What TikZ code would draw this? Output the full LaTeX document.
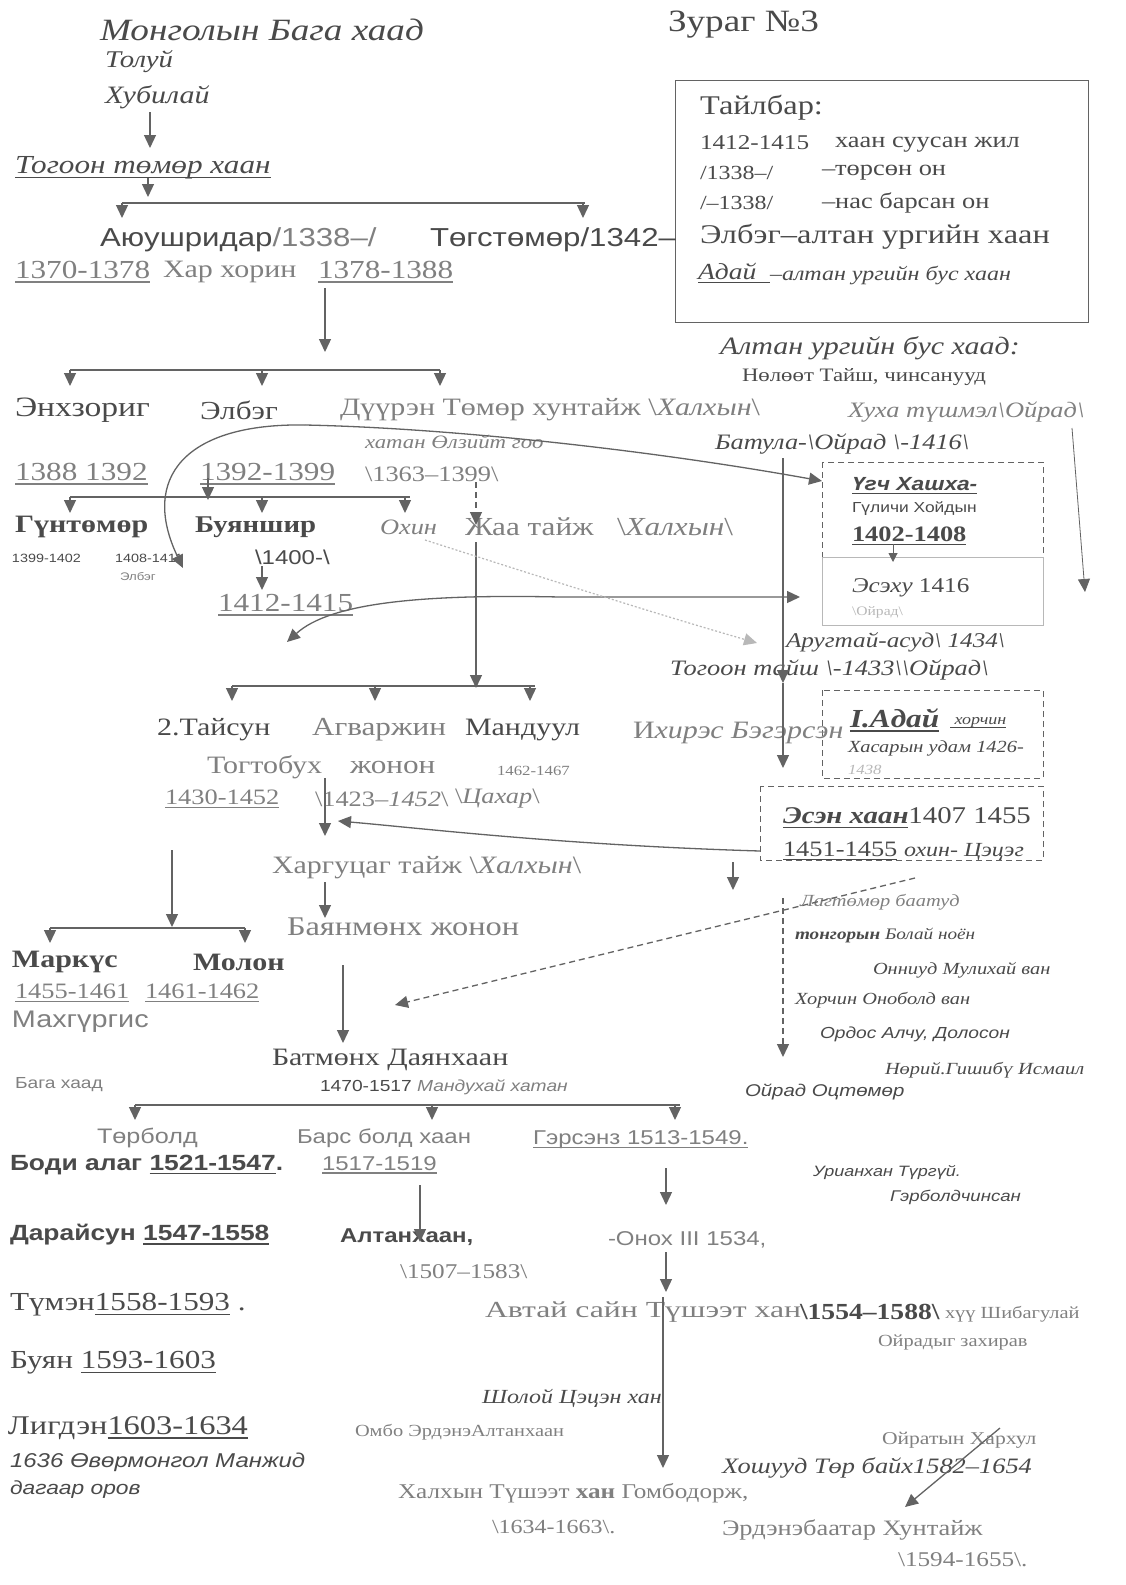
\documentclass[tikz,border=0pt]{standalone}
\usepackage{fontspec}
\setmainfont{Liberation Serif}[FakeStretch=1.2]
\setsansfont{Liberation Sans}[FakeStretch=1.2]
\newfontfamily\widerm{Liberation Serif}[FakeStretch=1.38]
\usetikzlibrary{arrows.meta}
\definecolor{ink}{HTML}{4A4A4A}
\definecolor{inkl}{HTML}{808080}
\definecolor{ln}{HTML}{636363}
\definecolor{faint}{HTML}{B8B8B8}
\newcommand{\fz}[1]{\fontsize{#1}{#1}\selectfont}
\newcommand{\bsl}{\textbackslash}
\newcommand{\ul}[1]{\setbox0=\hbox{#1}\rlap{\rule[-0.17em]{\wd0}{0.06em}}\box0\relax}
\begin{document}
\begin{tikzpicture}[x=1pt,y=-1pt,
  base/.style={inner sep=0pt, outer sep=0pt, anchor=west, text=ink},
  lite/.style={base, text=inkl},
  arr/.style={draw=ln, line width=1.3pt, -{Triangle[width=12pt,length=13pt]}},
  sarr/.style={draw=ln, line width=1pt, -{Triangle[width=9pt,length=9pt]}},
  barl/.style={draw=ln, line width=2.5pt},
  dbox/.style={draw=ln, line width=1pt, dash pattern=on 6pt off 4pt},
  dline/.style={draw=ln, line width=1.3pt, dash pattern=on 6pt off 4pt, -{Triangle[width=12pt,length=13pt]}}]
\useasboundingbox (0,0) rectangle (1125,1585);
\fill[white] (0,0) rectangle (1125,1585);

% ---------- top ----------
\node[base,font={\itshape\fz{31}}] (title) at (100,30) {Монголын Бага хаад};
\node[base,font={\fz{31}}] (fig) at (668,25) {Зураг №3};
\node[base,font={\itshape\fz{24}}] (toluy) at (105,62) {Толуй};
\node[base,font={\itshape\fz{25}}] (khubilai) at (105,97) {Хубилай};
\node[base,font={\itshape\fz{26}}] (togoon) at (15,168) {\ul{Тогоон төмөр хаан}};

% legend
\node[draw=ln, line width=1pt, minimum width=413pt, minimum height=242pt, inner sep=0pt] (legend) at (881.5,201) {};
\node[base,font={\fz{27}}] (lg1) at (700,108) {Тайлбар:};
\node[base,font={\fz{21}}] (lg2a) at (700,143) {1412-1415};
\node[base,font={\fz{22}}] (lg2b) at (835,145) {хаан суусан жил};
\node[base,font={\fz{20}}] (lg3a) at (700,173) {/1338–/};
\node[base,font={\fz{22}}] (lg3b) at (822,173) {–төрсөн он};
\node[base,font={\fz{20}}] (lg4a) at (700,203) {/–1338/};
\node[base,font={\fz{22}}] (lg4b) at (822,203) {–нас барсан он};
\node[base,font={\fz{27}}] (lg5) at (700,237) {Элбэг–алтан ургийн хаан};
\node[base,font={\itshape\fz{23}}] (lg6a) at (698,273) {\ul{Адай\ \ }};
\node[base,font={\itshape\fz{20}}] (lg6b) at (770,275) {–алтан ургийн бус хаан};

\node[base,font={\sffamily\fz{26}}] (ayu) at (100,240) {Аюушридар\textcolor{inkl}{/1338–/}};
\node[base,font={\sffamily\fz{26}}] (tug) at (430,240) {Төгстөмөр/1342–};
\node[lite,font={\fz{26}}] (y1) at (15,272) {\ul{1370-1378}};
\node[lite,font={\fz{25}}] (kh) at (163,272) {Хар хорин};
\node[lite,font={\fz{26}}] (y2) at (318,272) {\ul{1378-1388}};

% ---------- row 2 ----------
\node[base,font={\fz{28}}] (enkh) at (15,410) {Энхзориг};
\node[base,font={\fz{26}}] (elbeg) at (200,410) {Элбэг};
\node[lite,font={\fz{25}}] (duuren) at (340,410) {Дүүрэн Төмөр хунтайж \bsl\textit{Халхын}\bsl};
\node[lite,font={\itshape\fz{22}}] (khukha) at (848,412) {Хуха түшмэл\bsl Ойрад\bsl};
\node[lite,font={\itshape\fz{19}}] (ulziit) at (365,442) {хатан Өлзийт гоо};
\node[base,font={\itshape\fz{22}}] (batula) at (715,444) {Батула-\bsl Ойрад \bsl-1416\bsl};
\node[lite,font={\fz{26}}] (y3) at (15,474) {\ul{1388 1392}};
\node[lite,font={\fz{26}}] (y4) at (200,474) {\ul{1392-1399}};
\node[lite,font={\fz{22}}] (y5) at (365,474) {\bsl1363–1399\bsl};

\node[base,font={\itshape\fz{25}}] (altan) at (720,348) {Алтан ургийн бус хаад:};
\node[base,font={\fz{19}}] (nuluut) at (742,377) {Нөлөөт Тайш, чинсанууд};

% ---------- row 3 ----------
\node[base,font={\bfseries\fz{25}}] (guntumur) at (15,527) {Гүнтөмөр};
\node[base,font={\bfseries\fz{24}}] (buyanshir) at (195,527) {Буяншир};
\node[lite,font={\itshape\fz{22}}] (okhin) at (380,527) {Охин};
\node[lite,font={\fz{26}}] (jaa) at (465,527) {Жаа тайж};
\node[lite,font={\fz{26}}] (jaakh) at (617,527) {\bsl\textit{Халхын}\bsl};
\node[base,font={\sffamily\fz{12}}] (s1) at (12,558) {1399-1402};
\node[base,font={\sffamily\fz{12}}] (s2) at (115,558) {1408-1411};
\node[lite,font={\sffamily\fz{11}}] (s3) at (120,577) {Элбэг};
\node[base,font={\sffamily\fz{20}}] (s4) at (255,557) {\bsl1400-\bsl};
\node[lite,font={\fz{26}}] (y6) at (218,605) {\ul{1412-1415}};

% boxes right
\draw[dbox] (822,462) rectangle (1043,557);
\draw[draw=faint, line width=0.8pt] (822,557) rectangle (1043,625);
\node[base,font={\sffamily\bfseries\itshape\fz{19}}] (ugch) at (852,486) {\ul{Үгч Хашха-}};
\node[base,font={\sffamily\fz{14.5}}] (gulichi) at (852,509) {Гүличи Хойдын};
\node[base,font={\bfseries\fz{22}}] (y7) at (852,536) {\ul{1402-1408}};
\node[base,font={\fz{21}}] (esekhu) at (852,588) {\textit{Эсэху} 1416};
\node[base,font={\fz{13}}, text=faint] (oirad1) at (852,612) {\bsl Ойрад\bsl};
\node[base,font={\itshape\fz{21}}] (arugtai) at (786,642) {Аругтай-асуд\bsl\ 1434\bsl};
\node[base,font={\itshape\fz{22}}] (togoont) at (670,670) {Тогоон тайш \bsl-1433\bsl\bsl Ойрад\bsl};
\draw[dbox] (822,690) rectangle (1043,778);
\node[base,font={\bfseries\itshape\fz{26}}] (adai) at (850,720) {\ul{I.Адай}};
\node[base,font={\itshape\fz{15}}] (khorchin) at (950,723) {\ul{\ хорчин}};
\node[base,font={\itshape\fz{17}}] (khasar) at (848,748) {Хасарын удам 1426-};
\node[base,font={\itshape\fz{14}}, text=faint] (y1438) at (848,770) {1438};
\draw[dbox] (760,786) rectangle (1043,860);
\node[base,font={\fz{24}}] (esen) at (783,818) {\textbf{\textit{\ul{Эсэн хаан}}}1407 1455};
\node[base,font={\fz{22}}] (y8) at (783,851) {\ul{1451-1455} \textit{\fz{20}охин- Цэцэг}};

% right list
\node[lite,font={\itshape\fz{17}}] (lagt) at (800,902) {Лагтөмөр баатуд};
\node[base,font={\itshape\fz{16}}] (tongor) at (795,935) {\textbf{тонгорын} Болай ноён};
\node[base,font={\itshape\fz{17}}] (onniud) at (873,970) {Онниуд Мулихай ван};
\node[base,font={\itshape\fz{17}}] (khorchin2) at (795,1000) {Хорчин Оноболд ван};
\node[base,font={\sffamily\itshape\fz{16}}] (ordos) at (820,1034) {Ордос Алчу, Долосон};
\node[base,font={\itshape\fz{17}}] (nurii) at (885,1070) {Нөрий.Гишибү Исмаил};
\node[base,font={\sffamily\itshape\fz{17}}] (oiradots) at (745,1092) {Ойрад Оцтөмөр};
\node[base,font={\sffamily\itshape\fz{15}}] (uriankh) at (813,1172) {Урианхан Түргүй.};
\node[base,font={\sffamily\itshape\fz{15.5}}] (gerbold) at (890,1197) {Гэрболдчинсан};

% ---------- middle ----------
\node[base,font={\fz{25}}] (taisun) at (157,730) {2.Тайсун};
\node[lite,font={\fz{26}}] (agvar) at (312,730) {Агваржин};
\node[base,font={\fz{25}}] (mandu) at (465,730) {Мандуул};
\node[lite,font={\fz{25}}] (ikhires) at (633,733) {И\textit{хирэс Бэгэрсэн}};
\node[lite,font={\fz{25}}] (togto) at (207,767) {Тогтобух};
\node[lite,font={\fz{26}}] (jonon) at (350,767) {жонон};
\node[lite,font={\fz{14}}] (y9) at (497,771) {1462-1467};
\node[lite,font={\fz{22}}] (y10) at (165,799) {\ul{1430-1452}};
\node[lite,font={\fz{22}}] (y11) at (315,799) {\bsl1423–\textit{1452}\bsl};
\node[lite,font={\fz{22}}] (tsakhar) at (455,799) {\bsl\textit{Цахар}\bsl};
\node[lite,font={\fz{25}}] (khargu) at (272,868) {Харгуцаг тайж \bsl\textit{Халхын}\bsl};
\node[lite,font={\fz{27}}] (bayan) at (287,927) {Баянмөнх жонон};
\node[base,font={\bfseries\fz{25}}] (markus) at (12,962) {Маркүс};
\node[base,font={\bfseries\fz{25}}] (molon) at (193,962) {Молон};
\node[lite,font={\fz{22}}] (y12) at (15,993) {\ul{1455-1461}};
\node[lite,font={\fz{22}}] (y13) at (145,993) {\ul{1461-1462}};
\node[lite,font={\sffamily\fz{24}}] (makh) at (12,1022) {Махгүргис};
\node[base,font={\fz{25}}] (batmunkh) at (272,1060) {Батмөнх Даянхаан};
\node[lite,font={\sffamily\fz{16}}] (baga) at (15,1085) {Бага хаад};
\node[base,font={\sffamily\fz{16}}] (y14) at (320,1087) {1470-1517 \textit{\textcolor{inkl}{Мандухай хатан}}};
\node[lite,font={\sffamily\fz{21}}] (turbold) at (97,1138) {Төрболд};
\node[lite,font={\sffamily\fz{20}}] (bars) at (297,1138) {Барс болд хаан};
\node[lite,font={\sffamily\fz{20}}] (gersenz) at (533,1140) {\ul{Гэрсэнз 1513-1549.}};
\node[base,font={\sffamily\bfseries\fz{22}}] (bodi) at (10,1165) {Боди алаг \ul{1521-1547}.};
\node[lite,font={\sffamily\fz{20}}] (y15) at (322,1165) {\ul{1517-1519}};
\node[base,font={\sffamily\bfseries\fz{22}}] (darai) at (10,1235) {Дарайсун \ul{1547-1558}};
\node[base,font={\sffamily\bfseries\fz{20}}] (altankh) at (340,1237) {Алтанхаан,};
\node[lite,font={\sffamily\fz{20}}] (onokh) at (608,1240) {-Онох III 1534,};
\node[lite,font={\fz{21}}] (y16) at (400,1272) {\bsl1507–1583\bsl};
\node[base,font={\fz{26}}] (tumen) at (10,1305) {Түмэн\ul{1558-1593} .};
\node[lite,font={\widerm\fz{23}}] (avtai) at (485,1312) {Автай сайн Түшээт хан};
\node[base,font={\bfseries\fz{23}}] (y17) at (800,1312) {\bsl1554–1588\bsl};
\node[lite,font={\fz{17}}] (khuu) at (945,1314) {хүү Шибагулай};
\node[lite,font={\fz{17}}] (oirdyg) at (878,1342) {Ойрадыг захирав};
\node[base,font={\fz{26}}] (buyan) at (10,1363) {Буян \ul{1593-1603}};
\node[base,font={\itshape\fz{20}}] (sholoi) at (482,1398) {Шолой Цэцэн хан};
\node[base,font={\fz{27}}] (ligden) at (8,1428) {Лигдэн\ul{1603-1634}};
\node[lite,font={\fz{17}}] (ombo) at (355,1432) {Омбо ЭрдэнэАлтанхаан};
\node[lite,font={\fz{18}}] (oiratkh) at (882,1440) {Ойратын Хархул};
\node[base,font={\sffamily\itshape\fz{20}}] (y1636) at (10,1462) {1636 Өвөрмонгол Манжид};
\node[base,font={\itshape\fz{22}}] (khoshuud) at (722,1468) {Хошууд Төр байх1582–1654};
\node[base,font={\sffamily\itshape\fz{19}}] (dagaar) at (10,1490) {дагаар оров};
\node[lite,font={\fz{21}}] (khalkh) at (398,1493) {Халхын Түшээт \textbf{хан} Гомбодорж,};
\node[lite,font={\fz{20}}] (y18) at (492,1527) {\bsl1634-1663\bsl.};
\node[lite,font={\fz{22}}] (erdene) at (722,1530) {Эрдэнэбаатар Хунтайж};
\node[lite,font={\fz{21}}] (y19) at (898,1560) {\bsl1594-1655\bsl.};

% ---------- coordinates ----------
\coordinate (a1s) at (150,112); \coordinate (a1e) at (150,148);
\coordinate (a2s) at (148,178); \coordinate (a2e) at (148,197);
\coordinate (h1l) at (122,203); \coordinate (h1r) at (585,203);
\coordinate (h1a) at (122,218); \coordinate (h1b) at (583,218); \coordinate (h1bs) at (583,203);
\coordinate (a3s) at (325,288); \coordinate (a3e) at (325,352);
\coordinate (h2l) at (70,370); \coordinate (h2m) at (262,370); \coordinate (h2r) at (440,370);
\coordinate (h2a) at (70,386); \coordinate (h2b) at (262,386); \coordinate (h2c) at (440,386);
\coordinate (e0) at (305,425); \coordinate (e1) at (183,568); \coordinate (e2) at (822,481);
\coordinate (a6s) at (208,478); \coordinate (a6e) at (208,500);
\coordinate (h3l) at (70,497); \coordinate (h3m) at (262,497); \coordinate (h3r) at (410,497); \coordinate (h3rr) at (405,497);
\coordinate (h3a) at (70,513); \coordinate (h3b) at (262,513); \coordinate (h3c) at (405,513);
\coordinate (j0) at (476,482); \coordinate (j1) at (476,525); \coordinate (j2) at (476,542); \coordinate (j3) at (476,688);
\coordinate (h4l) at (232,686); \coordinate (h4m) at (375,686); \coordinate (h4r) at (535,686); \coordinate (h4rr) at (530,686);
\coordinate (h4a) at (232,701); \coordinate (h4b) at (375,701); \coordinate (h4c) at (530,701);
\coordinate (b0) at (262,566); \coordinate (b1) at (262,590);
\coordinate (q0) at (287,642); \coordinate (q1) at (560,597); \coordinate (q2) at (800,597);
\coordinate (o0) at (425,540); \coordinate (o1) at (757,643);
\coordinate (v0) at (783,458); \coordinate (v1) at (783,683); \coordinate (v2) at (783,768);
\coordinate (r0) at (1072,428); \coordinate (r1) at (1085,592);
\coordinate (u0) at (893,544); \coordinate (u1) at (893,562);
\coordinate (t0) at (325,778); \coordinate (t1) at (325,836);
\coordinate (es0) at (760,851); \coordinate (es1) at (338,821);
\coordinate (m0) at (172,850); \coordinate (m1) at (172,927);
\coordinate (k0) at (325,882); \coordinate (k1) at (325,918);
\coordinate (h5l) at (50,928); \coordinate (h5r) at (245,928);
\coordinate (h5a) at (50,943); \coordinate (h5b) at (245,943);
\coordinate (g0) at (733,862); \coordinate (g1) at (733,890);
\coordinate (d0) at (915,878); \coordinate (d1) at (395,1005);
\coordinate (d2) at (783,898); \coordinate (d3) at (783,1057);
\coordinate (bm0) at (343,965); \coordinate (bm1) at (343,1043);
\coordinate (h6l) at (135,1105); \coordinate (h6m) at (432,1105); \coordinate (h6r) at (680,1105); \coordinate (h6rr) at (675,1105);
\coordinate (h6a) at (135,1120); \coordinate (h6b) at (432,1120); \coordinate (h6c) at (675,1120);
\coordinate (al0) at (420,1185); \coordinate (al1) at (420,1242);
\coordinate (gr0) at (666,1168); \coordinate (gr1) at (666,1205);
\coordinate (on0) at (666,1252); \coordinate (on1) at (666,1292);
\coordinate (av0) at (663,1297); \coordinate (av1) at (663,1468);
\coordinate (kh0) at (1000,1428); \coordinate (kh1) at (905,1507);

% ---------- connectors ----------
\draw[arr] (a1s) -- (a1e);
\draw[arr] (a2s) -- (a2e);
\draw[barl] (h1l) -- (h1r);
\draw[arr] (h1l) -- (h1a);
\draw[arr] (h1bs) -- (h1b);
\draw[arr] (a3s) -- (a3e);
\draw[barl] (h2l) -- (h2r);
\draw[arr] (h2l) -- (h2a);
\draw[arr] (h2m) -- (h2b);
\draw[arr] (h2r) -- (h2c);
\draw[arr] (e0) .. controls (185,423) and (140,478) .. (e1);
\draw[arr] (e0) .. controls (450,428) and (650,450) .. (e2);
\draw[arr] (a6s) -- (a6e);
\draw[barl] (h3l) -- (h3r);
\draw[arr] (h3l) -- (h3a);
\draw[arr] (h3m) -- (h3b);
\draw[arr] (h3rr) -- (h3c);
\draw[dline] (j0) -- (j1);
\draw[arr] (j2) -- (j3);
\draw[barl] (h4l) -- (h4r);
\draw[arr] (h4l) -- (h4a);
\draw[arr] (h4m) -- (h4b);
\draw[arr] (h4rr) -- (h4c);
\draw[arr] (b0) -- (b1);
\draw[draw=ln, line width=1.3pt, {Triangle[width=12pt,length=13pt]}-{Triangle[width=12pt,length=13pt]}]
  (q0) .. controls (330,603) and (420,594) .. (q1) -- (q2);
\draw[draw=faint, line width=1.2pt, dash pattern=on 2pt off 2pt, -{Triangle[width=12pt,length=13pt]}]
  (o0) .. controls (550,580) and (650,612) .. (o1);
\draw[arr] (v0) -- (v1);
\draw[arr] (v1) -- (v2);
\draw[draw=ln, line width=0.8pt, -{Triangle[width=12pt,length=13pt]}] (r0) -- (r1);
\draw[sarr] (u0) -- (u1);
\draw[arr] (t0) -- (t1);
\draw[arr] (es0) .. controls (560,845) and (420,828) .. (es1);
\draw[arr] (m0) -- (m1);
\draw[arr] (k0) -- (k1);
\draw[barl] (h5l) -- (h5r);
\draw[arr] (h5l) -- (h5a);
\draw[arr] (h5r) -- (h5b);
\draw[arr] (g0) -- (g1);
\draw[dline] (d0) -- (d1);
\draw[dline] (d2) -- (d3);
\draw[arr] (bm0) -- (bm1);
\draw[barl] (h6l) -- (h6r);
\draw[arr] (h6l) -- (h6a);
\draw[arr] (h6m) -- (h6b);
\draw[arr] (h6rr) -- (h6c);
\draw[arr] (al0) -- (al1);
\draw[arr] (gr0) -- (gr1);
\draw[arr] (on0) -- (on1);
\draw[arr] (av0) -- (av1);
\draw[arr] (kh0) -- (kh1);
\end{tikzpicture}
\end{document}
